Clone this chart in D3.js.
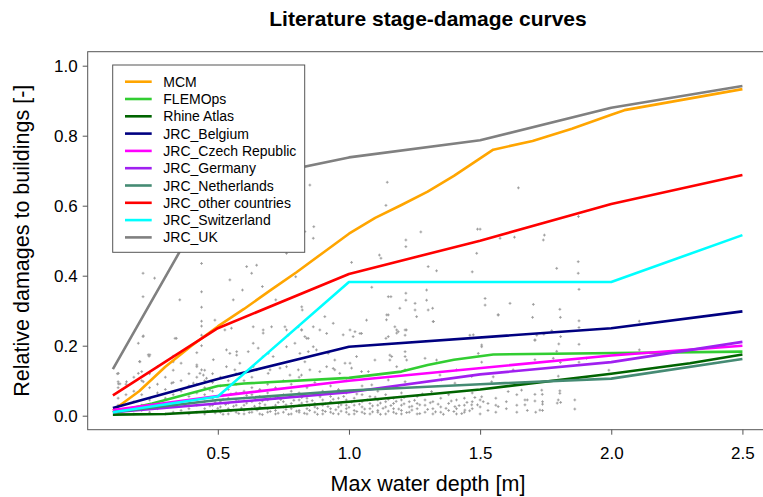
<!DOCTYPE html>
<html><head><meta charset="utf-8">
<script src="https://cdn.jsdelivr.net/npm/d3@7/dist/d3.min.js"></script>
<style>body{margin:0;background:#fff}svg{display:block}text{font-family:"Liberation Sans",Arial,sans-serif;fill:#000}</style>
</head><body><svg id="c" width="763" height="497"></svg>
<script>
// ---- data ----
const seriesNames = ["MCM","FLEMOps","Rhine Atlas","JRC_Belgium","JRC_Czech Republic","JRC_Germany","JRC_Netherlands","JRC_other countries","JRC_Switzerland","JRC_UK"];
const seriesColors = ["#FFA500","#32CD32","#006400","#000080","#FF00FF","#A020F0","#458B74","#FF0000","#00FFFF","#808080"];
const mcmDepth = [0.1,0.2,0.3,0.4,0.5,0.6,0.7,0.8,0.9,1.0,1.1,1.2,1.3,1.4,1.5,1.55,1.7,1.85,2.0,2.05,2.5];
const mcmDamage = [0.015,0.07,0.14,0.2,0.255,0.305,0.358,0.41,0.465,0.52,0.565,0.602,0.64,0.685,0.735,0.76,0.785,0.82,0.86,0.873,0.933];
const flemoDepth = [0.1,0.25,0.5,0.6,1.0,1.2,1.3,1.4,1.55,2.5];
const flemoDamage = [0.01,0.035,0.085,0.092,0.108,0.126,0.145,0.16,0.175,0.183];
const rhineDepth = [0.1,0.3,0.5,0.75,1.0,1.5,2.0,2.3,2.5];
const rhineDamage = [0.003,0.005,0.013,0.025,0.04,0.075,0.12,0.15,0.175];
const belgiumDepth = [0.1,0.5,1.0,2.0,2.5];
const belgiumDamage = [0.022,0.105,0.197,0.25,0.298];
const czechDepth = [0.1,0.5,1.0,2.0,2.5];
const czechDamage = [0.016,0.056,0.1,0.172,0.2];
const germanyDepth = [0.1,0.5,1.0,1.5,2.0,2.5];
const germanyDamage = [0.01,0.035,0.067,0.118,0.153,0.211];
const netherlandsDepth = [0.1,0.5,1.0,1.5,2.0,2.5];
const netherlandsDamage = [0.01,0.045,0.072,0.09,0.106,0.162];
const otherDepth = [0.1,0.5,1.0,1.5,2.0,2.5];
const otherDamage = [0.058,0.25,0.405,0.5,0.605,0.688];
const swissDepth = [0.1,0.5,1.0,2.0,2.5];
const swissDamage = [0.01,0.055,0.382,0.382,0.516];
const ukDepth = [0.1,0.5,1.0,1.5,2.0,2.5];
const ukDamage = [0.133,0.66,0.738,0.787,0.88,0.942];
const xTicks = [0.5,1.0,1.5,2.0,2.5];
const yTicks = [0,0.2,0.4,0.6,0.8,1.0];
const obsUpper = [
[0.215,0.407],[0.259,0.393],[0.215,0.34],[0.215,0.226],[0.238,0.17],[0.202,0.155],[0.21,0.126],[0.117,0.12],[0.12,0.097],[0.342,0.221],[0.355,0.331],[0.438,0.435],[0.438,0.354],[0.438,0.31],[0.438,0.27],[0.438,0.23],[0.438,0.2],[0.546,0.388],[0.61,0.426],[0.629,0.407],[0.648,0.43],[0.762,0.464],
[0.489,0.273],[0.559,0.331],[0.594,0.359],[0.67,0.369],[0.721,0.331],[0.797,0.397],[0.822,0.302],
[0.851,0.659],[1.146,0.667],[1.141,0.601],[0.866,0.54],[0.832,0.526],[0.864,0.507],[1.274,0.525],[1.49,0.533],[1.5,0.533],[1.646,0.651],[1.875,0.569],[1.576,0.507],[1.631,0.51],[1.745,0.516],
[1.741,0.502],[1.792,0.421],[1.874,0.44],[1.874,0.407],[1.877,0.361],[1.703,0.318],[1.804,0.304],[1.7,0.281],[1.806,0.281],[1.877,0.271],[1.877,0.252],[1.773,0.243],[1.743,0.233],[1.807,0.226],[1.709,0.216],[1.8,0.205],[1.877,0.204],[2.107,0.27],[2.107,0.188],[1.792,0.184],[1.906,0.164],[1.779,0.164],[1.709,0.16],[1.806,0.152],[1.877,0.153],[1.991,0.13],[1.798,0.113],
[1.01,0.438],[1.116,0.459],[1.122,0.45],[1.217,0.502],[1.217,0.483],[1.302,0.426],[1.334,0.414],[1.487,0.464],[1.47,0.411],[1.087,0.367],[1.15,0.34],[1.16,0.34],[1.217,0.35],[1.217,0.33],[1.194,0.307],[1.252,0.321],[1.252,0.302],[1.296,0.359],[1.296,0.33],[1.302,0.302],[1.319,0.307],[1.321,0.269],[1.15,0.288],[1.143,0.274],[1.182,0.245],[1.182,0.236],[1.219,0.245],[1.141,0.221],[1.067,0.273],[1.042,0.235],[1.016,0.226],[0.978,0.231],[0.915,0.235],[0.908,0.283],[0.82,0.311],[0.82,0.245],[0.839,0.221],[0.864,0.197],[1.519,0.335],[1.519,0.316],[1.474,0.231],[1.506,0.197],[1.569,0.288],[1.614,0.321],
[1.144,0.288],[1.258,0.283],[1.322,0.269],[1.569,0.288],[1.048,0.235],[1.175,0.254],[1.188,0.24],[1.214,0.245],[1.15,0.226],[1.214,0.23],[1.461,0.23],[1.716,0.23],[1.506,0.202],[1.709,0.216]
];
const obsMiddle = [
[0.527,0.245],[0.552,0.25],[0.635,0.254],[0.673,0.245],[0.673,0.236],[0.705,0.254],[0.756,0.254],[0.762,0.245],[0.768,0.23],[0.807,0.254],[0.819,0.245],[0.832,0.226],[0.845,0.221],[0.864,0.254],[0.889,0.245],[0.94,0.264],[1.004,0.245],[1.023,0.24],
[0.533,0.188],[0.546,0.178],[0.572,0.183],[0.572,0.173],[0.616,0.183],[0.635,0.207],[0.654,0.193],[0.673,0.169],[0.692,0.178],[0.711,0.169],[0.762,0.197],[0.794,0.207],[0.813,0.178],[0.845,0.183],[0.876,0.188],[0.921,0.178],[0.946,0.159],[0.985,0.15],[1.029,0.169],
[0.533,0.14],[0.565,0.131],[0.584,0.15],[0.635,0.14],[0.648,0.131],[0.692,0.121],[0.699,0.131],[0.737,0.136],[0.762,0.14],[0.775,0.116],[0.807,0.131],[0.819,0.116],[0.851,0.131],[0.889,0.126],[0.915,0.14],[0.946,0.131],[0.965,0.121],[1.01,0.136],
[0.216,0.228],[0.197,0.207],[0.337,0.221],[0.438,0.256],[0.235,0.174],[0.241,0.174],[0.203,0.154],[0.33,0.154],[0.42,0.145],[0.483,0.16],[0.121,0.121],[0.197,0.121],[0.121,0.091],[0.127,0.091],[0.152,0.097],[0.216,0.097],[0.324,0.093],[0.438,0.131],[0.432,0.121],[0.445,0.116],[0.407,0.093],[0.457,0.107],[0.47,0.073],[0.496,0.054],
[1.156,0.159],[1.163,0.169],[1.214,0.183],[1.214,0.169],[1.099,0.159],[1.334,0.159],[1.493,0.178],[1.048,0.126],[1.074,0.126],[1.182,0.14],[1.214,0.131],[1.347,0.116],[1.468,0.112],[1.087,0.088],[1.15,0.102],[1.214,0.097],[1.353,0.102],[1.404,0.093],[1.544,0.097],
[0.832,0.154],[0.94,0.135],[1.004,0.15],[1.156,0.173],[1.22,0.159],[1.29,0.164],[1.41,0.131],[1.506,0.153],[1.55,0.111],[1.626,0.131]
];
const obsLower = [
[1.709,0.061],[1.737,0.061],[1.804,0.071],[1.804,0.064],[1.709,0.042],[1.738,0.04],[1.738,0.033],[1.738,0.015],[1.798,0.045],[1.794,0.036],[1.807,0.038],[1.861,0.045],[1.861,0.019],[1.712,0.01],
[1.607,0.069],[1.658,0.073],[1.735,0.073],[1.315,0.069],[1.506,0.054],[1.512,0.04],[1.569,0.026],[1.671,0.045],[1.671,0.031],[1.728,0.016],[1.442,0.016],[1.404,0.026],[1.468,0.031],
[0.12,0.01],[0.12,0.03],[0.12,0.05],[0.12,0.08],[0.15,0.02],[0.15,0.06],[0.15,0.09],[0.18,0.005],[0.18,0.04],[0.18,0.07],[0.18,0.11],[0.21,0.015],[0.21,0.03],[0.21,0.06],[0.21,0.1],[0.24,0.01],[0.24,0.045],[0.24,0.08],[0.24,0.12],[0.27,0.02],[0.27,0.035],[0.27,0.065],[0.27,0.09],[0.27,0.14],[0.3,0.005],[0.3,0.025],[0.3,0.05],[0.3,0.075],[0.3,0.11],[0.33,0.01],[0.33,0.03],[0.33,0.06],[0.33,0.095],[0.33,0.13],[0.33,0.17],[0.36,0.015],[0.36,0.04],[0.36,0.07],[0.36,0.1],[0.36,0.15],[0.39,0.005],[0.39,0.02],[0.39,0.035],[0.39,0.055],[0.39,0.085],[0.39,0.12],[0.42,0.01],[0.42,0.03],[0.42,0.045],[0.42,0.065],[0.42,0.09],[0.42,0.11],[0.42,0.14],[0.42,0.18],[0.45,0.005],[0.45,0.02],[0.45,0.04],[0.45,0.06],[0.45,0.08],[0.45,0.1],[0.45,0.13],[0.48,0.015],[0.48,0.03],[0.48,0.05],[0.48,0.07],[0.48,0.095],[0.48,0.12],[0.51,0.01],[0.51,0.025],[0.51,0.04],[0.51,0.06],[0.51,0.085],[0.51,0.11],[0.54,0.005],[0.54,0.02],[0.54,0.035],[0.54,0.05],[0.54,0.075],[0.54,0.1],[0.57,0.01],[0.57,0.03],[0.57,0.045],[0.57,0.065],[0.57,0.09],[0.57,0.12],[0.6,0.005],[0.6,0.015],[0.6,0.03],[0.6,0.05],[0.6,0.07],[0.6,0.1],[0.63,0.01],[0.63,0.02],[0.63,0.04],[0.63,0.06],[0.63,0.08],[0.63,0.11],[0.66,0.005],[0.66,0.025],[0.66,0.035],[0.66,0.055],[0.66,0.075],[0.69,0.01],[0.69,0.02],[0.69,0.045],[0.69,0.065],[0.69,0.09],[0.72,0.005],[0.72,0.015],[0.72,0.03],[0.72,0.05],[0.72,0.08],[0.75,0.01],[0.75,0.025],[0.75,0.04],[0.75,0.06],[0.75,0.1],[0.78,0.005],[0.78,0.02],[0.78,0.035],[0.78,0.055],[0.78,0.07],[0.78,0.09],[0.81,0.01],[0.81,0.015],[0.81,0.03],[0.81,0.045],[0.81,0.065],[0.81,0.11],[0.84,0.005],[0.84,0.02],[0.84,0.04],[0.84,0.05],[0.84,0.08],[0.87,0.01],[0.87,0.025],[0.87,0.035],[0.87,0.06],[0.87,0.095],[0.9,0.005],[0.9,0.015],[0.9,0.03],[0.9,0.045],[0.9,0.07],[0.93,0.01],[0.93,0.02],[0.93,0.04],[0.93,0.055],[0.93,0.085],[0.96,0.005],[0.96,0.025],[0.96,0.035],[0.96,0.05],[0.96,0.075],[0.99,0.01],[0.99,0.02],[0.99,0.03],[0.99,0.045],[0.99,0.065],[0.99,0.1],[1.02,0.005],[1.02,0.015],[1.02,0.03],[1.02,0.05],[1.05,0.01],[1.05,0.025],[1.05,0.04],[1.05,0.06],[1.05,0.085],[1.08,0.005],[1.08,0.02],[1.08,0.035],[1.08,0.055],[1.11,0.01],[1.11,0.015],[1.11,0.03],[1.11,0.045],[1.11,0.07],[1.14,0.005],[1.14,0.025],[1.14,0.04],[1.14,0.06],[1.17,0.01],[1.17,0.02],[1.17,0.035],[1.17,0.05],[1.17,0.08],[1.2,0.005],[1.2,0.015],[1.2,0.03],[1.2,0.045],[1.2,0.065],[1.23,0.01],[1.23,0.025],[1.23,0.04],[1.26,0.005],[1.26,0.02],[1.26,0.035],[1.26,0.055],[1.29,0.01],[1.29,0.03],[1.29,0.045],[1.32,0.005],[1.32,0.02],[1.32,0.04],[1.35,0.01],[1.35,0.025],[1.35,0.05],[1.38,0.015],[1.38,0.035],[1.38,0.06],[1.41,0.005],[1.41,0.02],[1.41,0.045],[1.44,0.01],[1.44,0.03],[1.44,0.05],[1.47,0.02],[1.47,0.04],[1.47,0.065],[1.5,0.005],[1.5,0.025],[1.5,0.045],[1.53,0.015],[1.53,0.035],[1.56,0.01],[1.56,0.03],[1.56,0.05],[1.6,0.02],[1.6,0.04],[1.64,0.01],[1.64,0.03],[1.64,0.06],[1.68,0.015],[1.68,0.045],
[0.46,0.012],[0.47,0.028],[0.47,0.052],[0.49,0.008],[0.49,0.038],[0.5,0.021],[0.52,0.047],[0.52,0.004],[0.53,0.032],[0.55,0.014],[0.55,0.062],[0.56,0.027],[0.58,0.006],[0.58,0.041],[0.59,0.022],[0.61,0.036],[0.61,0.058],[0.62,0.009],[0.64,0.027],[0.64,0.049],[0.65,0.016],[0.67,0.003],[0.67,0.042],[0.68,0.031],[0.7,0.012],[0.7,0.055],[0.71,0.024],[0.73,0.038],[0.73,0.007],[0.74,0.046],[0.76,0.018],[0.76,0.031],[0.77,0.004],[0.79,0.026],[0.79,0.044],[0.8,0.013],[0.82,0.036],[0.82,0.052],[0.83,0.007],[0.85,0.029],[0.85,0.015],[0.86,0.043],[0.88,0.004],[0.88,0.021],[0.89,0.054],[0.91,0.012],[0.91,0.034],[0.92,0.026],[0.94,0.006],[0.94,0.047],[0.95,0.017],[0.97,0.031],[0.97,0.013],[0.98,0.055],[1.0,0.004],[1.0,0.024],[1.01,0.039],[1.03,0.012],[1.03,0.062],[1.04,0.033],[1.06,0.006],[1.06,0.019],[1.07,0.045],[1.09,0.028],[1.09,0.011],[1.1,0.053],[1.12,0.004],[1.12,0.036],[1.13,0.021],[1.15,0.013],[1.15,0.047],[1.16,0.029],[1.18,0.006],[1.18,0.041],[1.19,0.019],[1.21,0.034],[1.21,0.052],[1.22,0.009],[1.24,0.027],[1.24,0.016],[1.25,0.044],[1.27,0.006],[1.27,0.031],[1.28,0.062],[1.3,0.018],[1.31,0.037],[1.33,0.011],[1.34,0.033],[1.36,0.004],[1.37,0.021],[1.39,0.042],[1.4,0.012],[1.42,0.029],[1.43,0.006],[1.45,0.038],[1.46,0.014],[1.48,0.052],[1.49,0.031]
];

// ---- drawing ----
const W = 763, H = 497;
const svg = d3.select('#c');
svg.append('rect').attr('width', W).attr('height', H).attr('fill', '#fff');
const x = d3.scaleLinear().domain([0.004, 2.596]).range([87.7, 767.6]);
const y = d3.scaleLinear().domain([-0.04, 1.04]).range([429.7, 51.7]);

svg.append('defs').append('clipPath').attr('id', 'clip')
  .append('rect').attr('x', x.range()[0]).attr('y', y.range()[1])
  .attr('width', x.range()[1] - x.range()[0]).attr('height', y.range()[0] - y.range()[1]);

const plot = svg.append('g').attr('clip-path', 'url(#clip)');
const obsPoints = obsUpper.concat(obsMiddle, obsLower);
plot.selectAll('path.obs').data(obsPoints).join('path').attr('class', 'obs')
  .attr('transform', d => `translate(${x(d[0])},${y(d[1])})`)
  .attr('d', 'M-1.4,0H1.4M0,-1.4V1.4').attr('stroke', '#999').attr('stroke-width', 0.9).attr('fill', 'none');

const series = [
  [mcmDepth, mcmDamage], [flemoDepth, flemoDamage], [rhineDepth, rhineDamage],
  [belgiumDepth, belgiumDamage], [czechDepth, czechDamage], [germanyDepth, germanyDamage],
  [netherlandsDepth, netherlandsDamage], [otherDepth, otherDamage], [swissDepth, swissDamage], [ukDepth, ukDamage]
];
const line = d3.line().x(d => x(d[0])).y(d => y(d[1]));
series.forEach((s, i) => {
  plot.append('path').datum(d3.zip(s[0], s[1])).attr('d', line)
    .attr('fill', 'none').attr('stroke', seriesColors[i]).attr('stroke-width', 2.6)
    .attr('stroke-linejoin', 'round');
});

// box
svg.append('rect').attr('x', x.range()[0]).attr('y', y.range()[1])
  .attr('width', x.range()[1] - x.range()[0]).attr('height', y.range()[0] - y.range()[1])
  .attr('fill', 'none').attr('stroke', '#555').attr('stroke-width', 1);

// axes
const gx = svg.append('g').attr('transform', `translate(0,${y.range()[0]})`)
  .call(d3.axisBottom(x).tickValues(xTicks).tickSize(5).tickPadding(12).tickFormat(d3.format('.1f')));
const gy = svg.append('g').attr('transform', `translate(${x.range()[0]},0)`)
  .call(d3.axisLeft(y).tickValues(yTicks).tickSize(5).tickPadding(5).tickFormat(d3.format('.1f')));
[gx, gy].forEach(g => {
  g.select('.domain').remove();
  g.selectAll('.tick line').attr('stroke', '#555');
  g.selectAll('.tick text').attr('font-size', 17).attr('font-family', '"Liberation Sans",Arial,sans-serif').attr('fill', '#000');
});

// titles
svg.append('text').attr('x', 428).attr('y', 25.5).attr('text-anchor', 'middle')
  .attr('font-size', 21).attr('font-weight', 'bold').text('Literature stage-damage curves');
svg.append('text').attr('x', 428).attr('y', 490.5).attr('text-anchor', 'middle')
  .attr('font-size', 21.5).text('Max water depth [m]');
svg.append('text').attr('transform', 'translate(28.7,240.7) rotate(-90)').attr('text-anchor', 'middle')
  .attr('font-size', 21.5).text('Relative damages to buildings [-]');

// legend
const lg = svg.append('g');
lg.append('rect').attr('x', 112.7).attr('y', 65).attr('width', 192).attr('height', 187.3)
  .attr('fill', '#fff').attr('stroke', '#555').attr('stroke-width', 1);
seriesNames.forEach((n, i) => {
  const yy = 81.7 + i * 17.3;
  lg.append('line').attr('x1', 125).attr('x2', 151.7).attr('y1', yy).attr('y2', yy)
    .attr('stroke', seriesColors[i]).attr('stroke-width', 2.6);
  lg.append('text').attr('x', 163.3).attr('y', yy + 5).attr('font-size', 14).text(n);
});
</script></body></html>
